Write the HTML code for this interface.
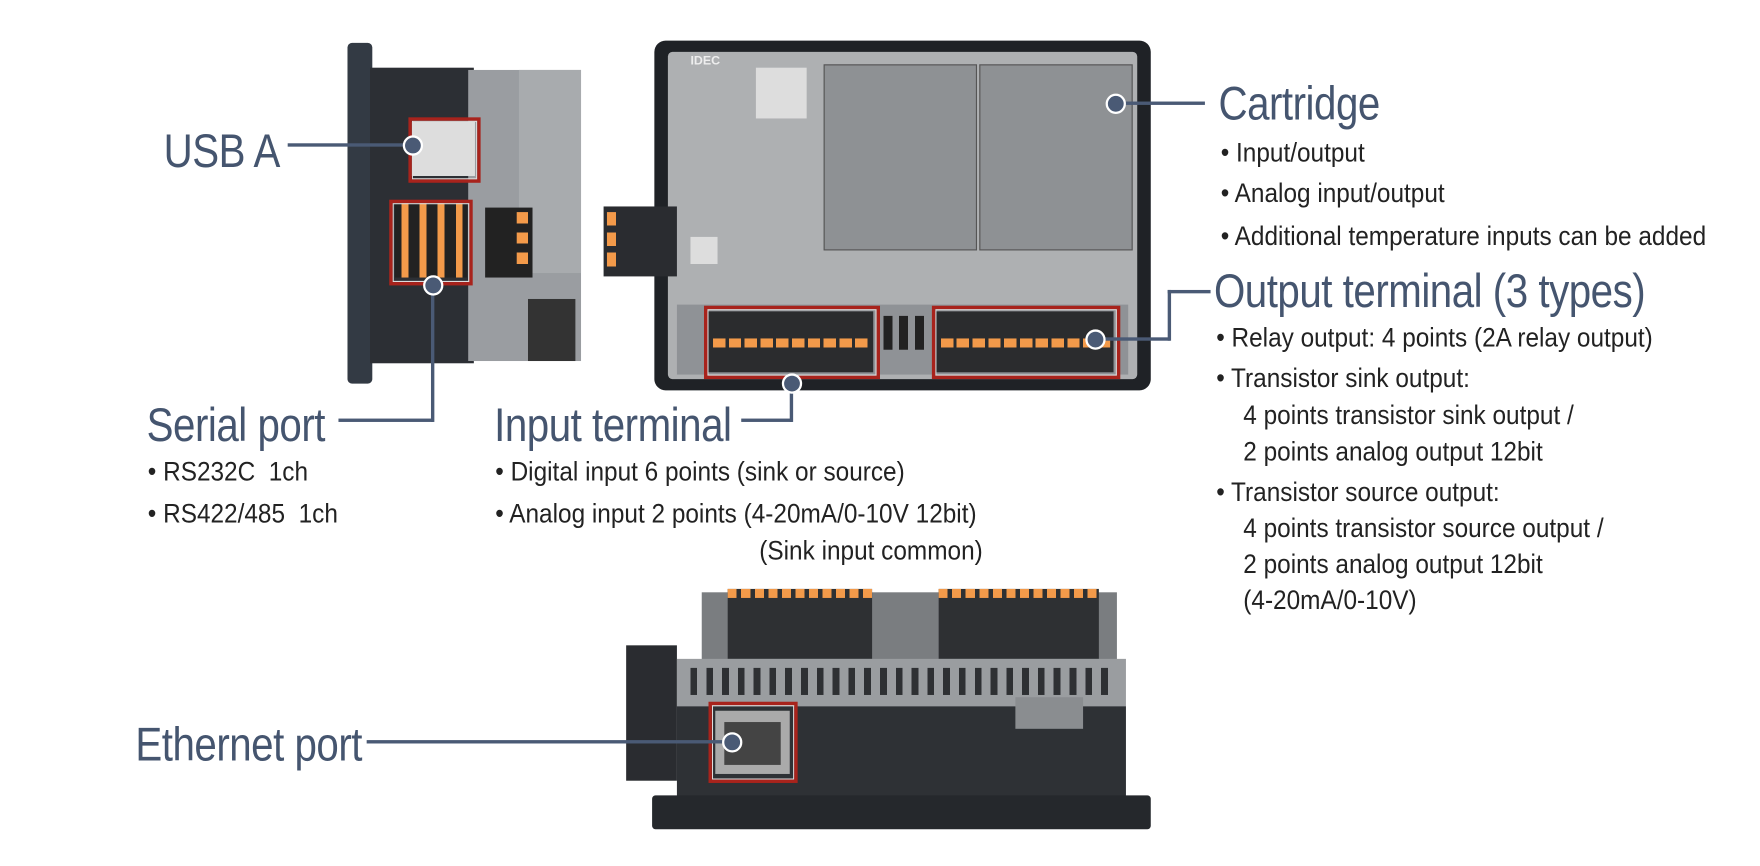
<!DOCTYPE html>
<html><head><meta charset="utf-8"><style>
html,body{margin:0;padding:0;background:#fff;width:1760px;height:866px;overflow:hidden}
#w{position:absolute;left:0;top:0;width:1560px;height:768px;transform:scale(1.1282);transform-origin:0 0}
.a{position:absolute}
.t{position:absolute;font-family:"Liberation Sans",sans-serif;color:#45556f;white-space:nowrap;transform-origin:0 0}
.h{font-size:42px;transform:scaleX(0.85);letter-spacing:-0.5px}
.b{font-size:24px;color:#222;transform:scaleX(0.9)}
.ln{position:absolute;background:#4a5a75}
.dot{position:absolute;width:14px;height:14px;border-radius:50%;background:#4a5a75;border:2px solid #fff;margin:-9px 0 0 -9px}
.red{position:absolute;border:3px solid #a8231c;box-shadow:inset 0 0 0 1px #ddd}
.or{position:absolute;background:#f39a4a}
</style></head><body><div id="w">

<!-- left side device -->
<div class="a" style="left:308px;top:38px;width:22px;height:302px;background:#333a44;border-radius:4px"></div>
<div class="a" style="left:328px;top:60px;width:92px;height:262px;background:#2c2f34"></div>
<div class="a" style="left:415px;top:62px;width:100px;height:258px;background:#9a9da1"></div>
<div class="a" style="left:460px;top:62px;width:55px;height:180px;background:#a8abae"></div>
<div class="a" style="left:430px;top:184px;width:42px;height:62px;background:#222"></div>
<div class="or" style="left:458px;top:188px;width:10px;height:52px;background:repeating-linear-gradient(#f39a4a 0 10px,#222 10px 18px)"></div>
<div class="a" style="left:468px;top:265px;width:42px;height:55px;background:#333"></div>
<div class="a" style="left:365px;top:108px;width:56px;height:48px;background:#ddd"></div>
<div class="red" style="left:362px;top:104px;width:58px;height:52px"></div>
<div class="a" style="left:350px;top:180px;width:64px;height:66px;background:repeating-linear-gradient(90deg,#222 0 6px,#f39a4a 6px 12px,#222 12px 16px)"></div>
<div class="red" style="left:345px;top:177px;width:68px;height:70px"></div>

<!-- middle device -->
<div class="a" style="left:580px;top:36px;width:440px;height:310px;background:#1f2226;border-radius:10px"></div>
<div class="a" style="left:592px;top:46px;width:416px;height:290px;background:#aeb0b2;border-radius:4px"></div>
<div class="a" style="left:730px;top:57px;width:134px;height:163px;background:#8e9194;border:1px solid #555"></div>
<div class="a" style="left:868px;top:57px;width:134px;height:163px;background:#8e9194;border:1px solid #555"></div>
<div class="a" style="left:612px;top:48px;font:bold 11px 'Liberation Sans',sans-serif;color:#eee">IDEC</div>
<div class="a" style="left:670px;top:60px;width:45px;height:45px;background:#ddd"></div>
<div class="a" style="left:612px;top:210px;width:24px;height:24px;background:#ddd"></div>
<div class="a" style="left:535px;top:183px;width:65px;height:62px;background:#2a2c30"></div>
<div class="or" style="left:538px;top:188px;width:8px;height:52px;background:repeating-linear-gradient(#f39a4a 0 12px,#2a2c30 12px 18px)"></div>
<div class="a" style="left:600px;top:270px;width:400px;height:62px;background:#8f9296"></div>
<div class="a" style="left:628px;top:276px;width:146px;height:54px;background:#2b2c2e"></div>
<div class="a" style="left:632px;top:300px;width:138px;height:8px;background:repeating-linear-gradient(90deg,#f39a4a 0 11px,#2b2c2e 11px 14px)"></div>
<div class="a" style="left:830px;top:276px;width:157px;height:54px;background:#2b2c2e"></div>
<div class="a" style="left:834px;top:300px;width:150px;height:8px;background:repeating-linear-gradient(90deg,#f39a4a 0 11px,#2b2c2e 11px 14px)"></div>
<div class="red" style="left:624px;top:271px;width:150px;height:59px"></div>
<div class="red" style="left:826px;top:271px;width:161px;height:59px"></div>
<div class="a" style="left:783px;top:280px;width:40px;height:30px;background:repeating-linear-gradient(90deg,#222 0 8px,transparent 8px 14px)"></div>

<!-- bottom device -->
<div class="a" style="left:622px;top:525px;width:368px;height:70px;background:#7a7d80"></div>
<div class="a" style="left:645px;top:522px;width:128px;height:62px;background:#2e3033"></div>
<div class="a" style="left:645px;top:522px;width:128px;height:8px;background:repeating-linear-gradient(90deg,#f39a4a 0 8px,transparent 8px 12px)"></div>
<div class="a" style="left:832px;top:522px;width:142px;height:62px;background:#2e3033"></div>
<div class="a" style="left:832px;top:522px;width:142px;height:8px;background:repeating-linear-gradient(90deg,#f39a4a 0 8px,transparent 8px 12px)"></div>
<div class="a" style="left:555px;top:572px;width:45px;height:120px;background:#2a2c30"></div>
<div class="a" style="left:600px;top:584px;width:398px;height:42px;background:#9a9da0"></div>
<div class="a" style="left:612px;top:592px;width:375px;height:24px;background:repeating-linear-gradient(90deg,#2e3033 0 6px,transparent 6px 14px)"></div>
<div class="a" style="left:600px;top:626px;width:398px;height:80px;background:#2e3135"></div>
<div class="a" style="left:900px;top:618px;width:60px;height:28px;background:#8a8d90"></div>
<div class="a" style="left:578px;top:705px;width:442px;height:30px;background:#25282c;border-radius:3px"></div>
<div class="a" style="left:634px;top:630px;width:66px;height:56px;background:#aaa"></div>
<div class="a" style="left:642px;top:640px;width:50px;height:38px;background:#444"></div>
<div class="red" style="left:628px;top:622px;width:73px;height:66px"></div>

<!-- connectors -->
<div class="ln" style="left:255px;top:127px;width:110px;height:3px"></div><div class="dot" style="left:366px;top:129px"></div>
<div class="ln" style="left:300px;top:371px;width:84px;height:3px"></div><div class="ln" style="left:382px;top:253px;width:3px;height:121px"></div><div class="dot" style="left:384px;top:253px"></div>
<div class="ln" style="left:657px;top:371px;width:45px;height:3px"></div><div class="ln" style="left:700px;top:340px;width:3px;height:34px"></div><div class="dot" style="left:702px;top:340px"></div>
<div class="ln" style="left:990px;top:90px;width:78px;height:3px"></div><div class="dot" style="left:989px;top:92px"></div>
<div class="ln" style="left:975px;top:299px;width:62px;height:3px"></div><div class="ln" style="left:1035px;top:257px;width:3px;height:45px"></div><div class="ln" style="left:1035px;top:257px;width:38px;height:3px"></div><div class="dot" style="left:971px;top:301px"></div>
<div class="ln" style="left:325px;top:656px;width:325px;height:3px"></div><div class="dot" style="left:649px;top:658px"></div>

<!-- labels -->
<div class="t h" style="left:145px;top:110px">USB A</div>
<div class="t h" style="left:1080px;top:68px">Cartridge</div>
<div class="t b" style="left:1082px;top:122px">• Input/output</div>
<div class="t b" style="left:1082px;top:158px">• Analog input/output</div>
<div class="t b" style="left:1082px;top:196px">• Additional temperature inputs can be added</div>
<div class="t h" style="left:1076px;top:234px">Output terminal (3 types)</div>
<div class="t b" style="left:1078px;top:286px">• Relay output: 4 points (2A relay output)</div>
<div class="t b" style="left:1078px;top:322px">• Transistor sink output:</div>
<div class="t b" style="left:1102px;top:355px">4 points transistor sink output /</div>
<div class="t b" style="left:1102px;top:387px">2 points analog output 12bit</div>
<div class="t b" style="left:1078px;top:423px">• Transistor source output:</div>
<div class="t b" style="left:1102px;top:455px">4 points transistor source output /</div>
<div class="t b" style="left:1102px;top:487px">2 points analog output 12bit</div>
<div class="t b" style="left:1102px;top:519px">(4-20mA/0-10V)</div>
<div class="t h" style="left:130px;top:353px">Serial port</div>
<div class="t b" style="left:131px;top:405px">• RS232C&nbsp;&nbsp;1ch</div>
<div class="t b" style="left:131px;top:442px">• RS422/485&nbsp;&nbsp;1ch</div>
<div class="t h" style="left:438px;top:353px">Input terminal</div>
<div class="t b" style="left:439px;top:405px">• Digital input 6 points (sink or source)</div>
<div class="t b" style="left:439px;top:442px">• Analog input 2 points (4-20mA/0-10V 12bit)</div>
<div class="t b" style="left:673px;top:475px">(Sink input common)</div>
<div class="t h" style="left:120px;top:636px">Ethernet port</div>
</div></body></html>
